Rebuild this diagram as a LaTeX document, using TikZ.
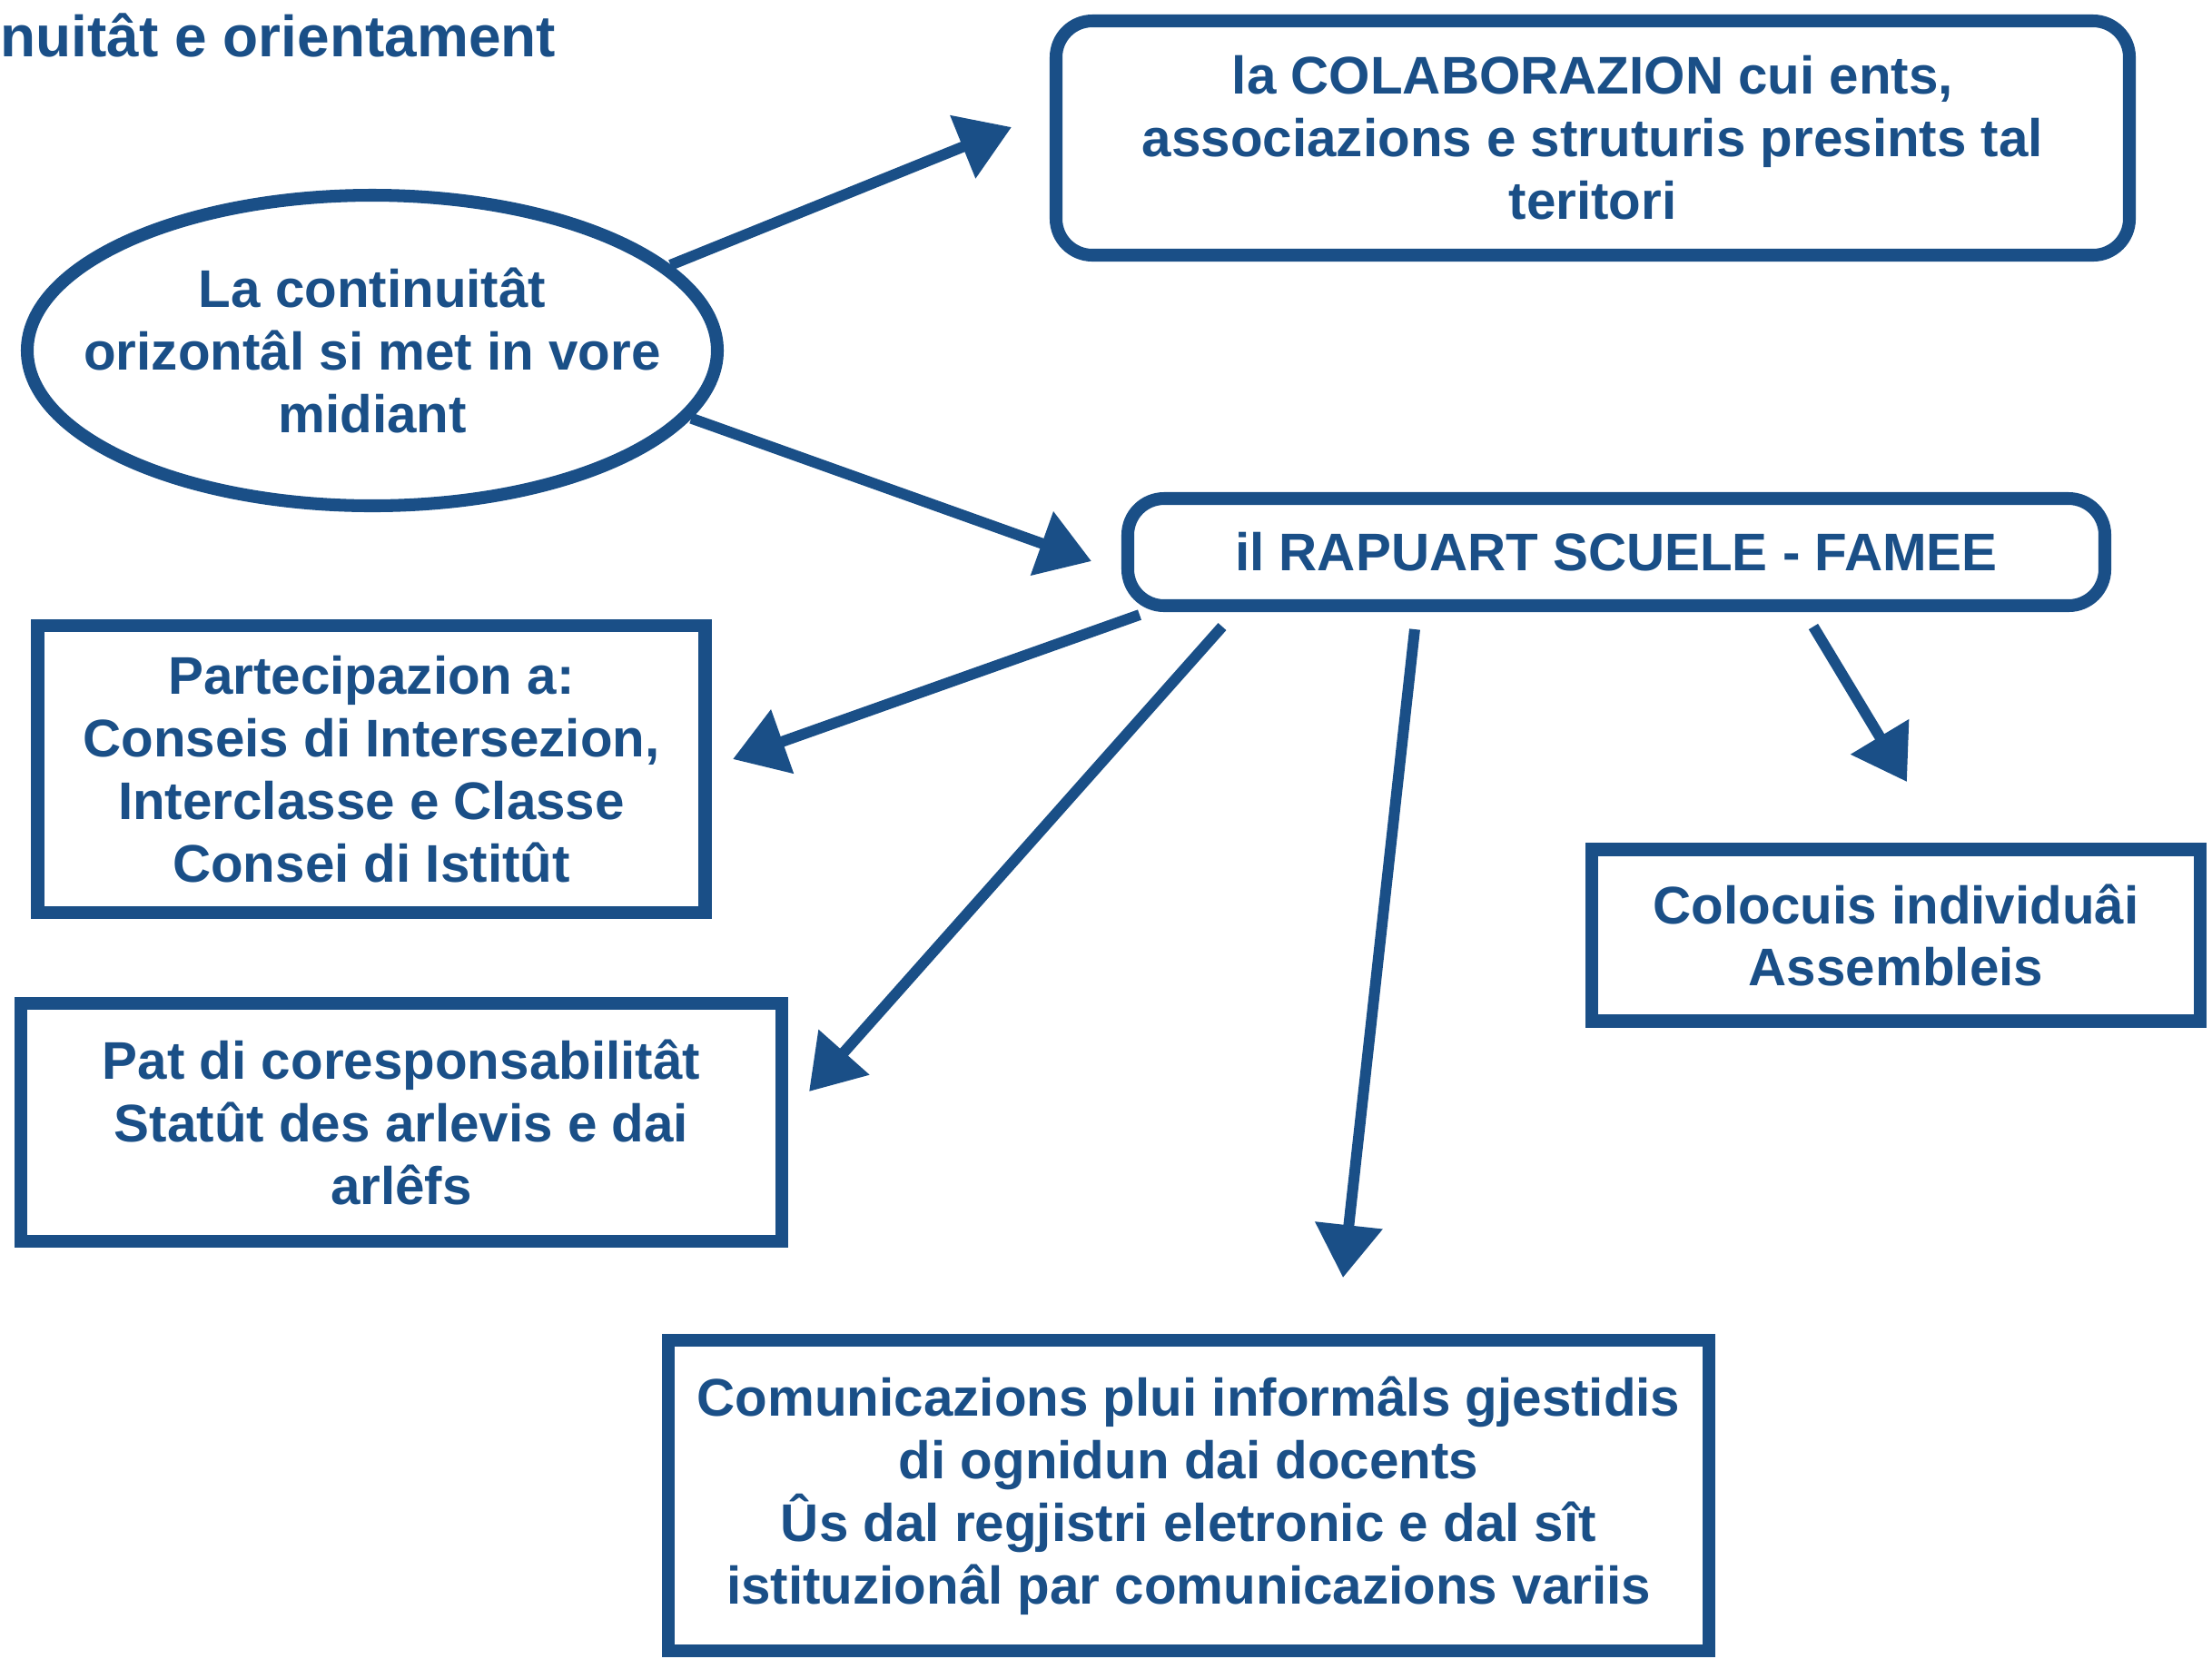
\documentclass[tikz,border=0pt]{standalone}
\usepackage{fontspec}
\setmainfont{Liberation Sans}
\usepackage{tikz}
\usetikzlibrary{arrows.meta,shapes.geometric}
\definecolor{kreide}{RGB}{26,79,135}

\begin{document}
\begin{tikzpicture}[x=1cm,y=1cm,
		every node/.style={text=kreide,font=\fontsize{16.6}{19.6}\selectfont\bfseries,align=center},
		riquadri/.style={draw=kreide,line width=4pt,minimum width=#1},
		frece/.style={draw=kreide,line width=3.4pt,-{Triangle[length=0.58cm,width=0.72cm]}}]
				% cornis
				\useasboundingbox (0,0) rectangle (24.36,-18.26);
				% titul taiât
				\node[anchor=west,inner sep=0pt,font=\fontsize{18.2}{21}\selectfont\bfseries] (titul) at (0,-0.39) {nuitât e orientament};
				% ellisse
				\node[ellipse,draw=kreide,line width=4pt,inner xsep=-0.5cm,inner ysep=0pt,minimum width=7.6cm,minimum height=3.42cm] (continuitat) at (4.10,-3.86)
					{La continuitât\\orizontâl si met in vore\\midiant};
				% riquadris
				\node[riquadri=11.82cm,rounded corners=0.4cm,minimum height=2.58cm] (colaborazion) at (17.54,-1.52)
					{la COLABORAZION cui ents,\\associazions e struturis presints tal\\teritori};
				\node[riquadri=10.76cm,rounded corners=0.4cm,minimum height=1.18cm] (rapuart) at (17.80,-6.08)
					{il RAPUART SCUELE - FAMEE};
				\node[riquadri=7.35cm,minimum height=3.16cm] (partecipazion) at (4.09,-8.47)
					{Partecipazion a:\\Conseis di Intersezion,\\Interclasse e Classe\\Consei di Istitût};
				\node[riquadri=8.38cm,minimum height=2.62cm] (pat) at (4.42,-12.36)
					{Pat di coresponsabilitât\\Statût des arlevis e dai\\arlêfs};
				\node[riquadri=6.70cm,minimum height=1.89cm] (colocuis) at (20.88,-10.30)
					{Colocuis individuâi\\Assembleis};
				\node[riquadri=11.46cm,minimum height=3.42cm] (comunicazions) at (13.09,-16.47)
					{Comunicazions plui informâls gjestidis\\di ognidun dai docents\\Ûs dal regjistri eletronic e dal sît\\istituzionâl par comunicazions variis};
				% ponts des frecis
				\coordinate (p1) at (11.14,-1.40);
				\coordinate (p2) at (12.02,-6.18);
				\coordinate (p3) at (8.07,-8.36);
				\coordinate (p4) at (8.91,-12.02);
				\coordinate (p5) at (14.79,-14.07);
				\coordinate (p6) at (21.00,-8.61);
				% frecis
				\draw[frece] (continuitat.16) -- (p1);
				\draw[frece] (continuitat.-12) -- (p2);
				\draw[frece] ([xshift=2mm,yshift=-0.3mm]rapuart.south west) -- (p3);
				\draw[frece] ([xshift=11.1mm,yshift=-1.6mm]rapuart.south west) -- (p4);
				\draw[frece] ([xshift=32.3mm,yshift=-1.9mm]rapuart.south west) -- (p5);
				\draw[frece] ([xshift=76.2mm,yshift=-1.6mm]rapuart.south west) -- (p6);
			\end{tikzpicture}
\end{document}
